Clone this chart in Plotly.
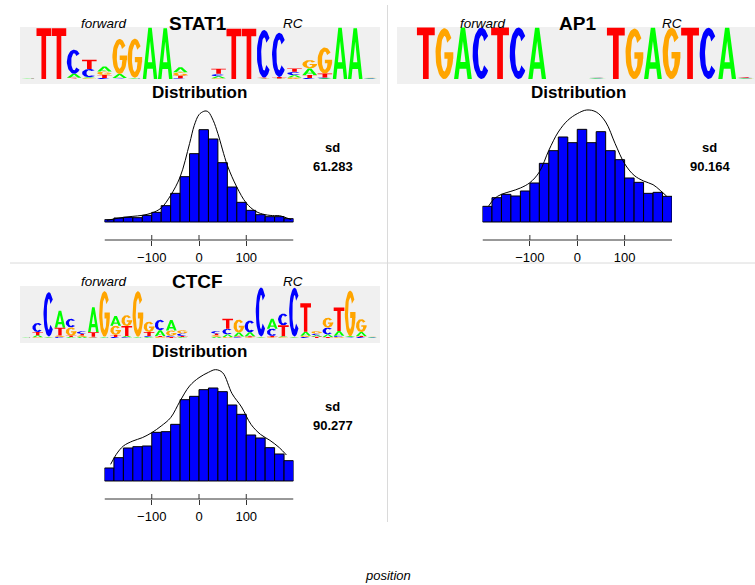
import math
import plotly.graph_objects as go

FIG_W, FIG_H = 755, 585

# ---------------- data ----------------
BIN_CENTERS = [-190, -170, -150, -130, -110, -90, -70, -50, -30, -10,
               10, 30, 50, 70, 90, 110, 130, 150, 170, 190]
TICK_VALS = [-100, 0, 100]
TICK_TEXT = ["\u2212100", "0", "100"]

STAT1_HIST = [7, 12, 14, 13, 20, 29, 49, 86, 136, 205, 277, 249, 178, 105, 59, 35, 22, 16, 16, 10]
AP1_HIST = [47, 73, 83, 78, 93, 117, 176, 214, 255, 238, 278, 238, 271, 214, 187, 132, 119, 86, 89, 77]
CTCF_HIST = [39, 70, 99, 103, 105, 146, 148, 170, 244, 254, 274, 279, 268, 228, 200, 138, 129, 100, 81, 61]

STAT1_DENS_X = [-195, -180, -160, -140, -120, -100, -80, -60, -40, -20, -10, 0, 10, 15, 20, 30, 40, 60, 80, 100, 120, 140, 160, 170, 180, 195]
STAT1_DENS_Y = [5, 9, 14, 17, 20, 27, 42, 80, 135, 235, 290, 322, 332, 333, 330, 305, 265, 170, 105, 57, 32, 22, 19, 19, 15, 7]

AP1_DENS_X = [-187, -175, -160, -140, -120, -100, -80, -60, -40, -20, 0, 20, 40, 60, 80, 100, 120, 140, 160, 175, 189]
AP1_DENS_Y = [48, 70, 83, 92, 102, 118, 150, 215, 270, 305, 325, 336, 330, 300, 235, 175, 140, 123, 112, 95, 77]

CTCF_DENS_X = [-187, -175, -160, -140, -120, -100, -80, -60, -40, -20, 0, 20, 35, 50, 70, 90, 110, 130, 150, 170, 185]
CTCF_DENS_Y = [50, 80, 105, 120, 130, 145, 165, 190, 240, 285, 310, 326, 334, 325, 262, 222, 170, 140, 122, 100, 78]

SD_TEXT = {"STAT1": "61.283", "AP1": "90.164", "CTCF": "90.277"}

# logo letter heights (bits) per column
STAT1_FWD_A = [0.01, 0.00, 0.00, 0.15, 0.04, 0.19, 0.15, 0.02, 1.97, 1.95, 0.19]
STAT1_FWD_C = [0.01, 0.00, 0.00, 0.93, 0.32, 0.04, 0.02, 0.01, 0.00, 0.00, 0.03]
STAT1_FWD_G = [0.01, 0.00, 0.00, 0.02, 0.03, 0.13, 1.35, 1.50, 0.00, 0.00, 0.13]
STAT1_FWD_T = [0.01, 1.95, 1.95, 0.03, 0.35, 0.12, 0.02, 0.02, 0.00, 0.00, 0.10]
STAT1_RC_A = [0.08, 0.00, 0.00, 0.01, 0.01, 0.09, 0.25, 0.03, 1.97, 1.95, 0.02]
STAT1_RC_C = [0.09, 0.00, 0.00, 1.83, 1.70, 0.13, 0.04, 0.03, 0.00, 0.00, 0.02]
STAT1_RC_G = [0.03, 0.00, 0.00, 0.01, 0.01, 0.06, 0.32, 1.00, 0.00, 0.00, 0.02]
STAT1_RC_T = [0.20, 1.93, 1.93, 0.03, 0.06, 0.13, 0.12, 0.15, 0.00, 0.00, 0.02]

AP1_FWD_A = [0.00, 0.00, 0.00, 1.98, 0.00, 0.00, 0.00, 1.97, 0.00]
AP1_FWD_C = [0.00, 0.00, 0.00, 0.00, 1.98, 0.00, 1.98, 0.00, 0.00]
AP1_FWD_G = [0.00, 0.00, 1.95, 0.00, 0.00, 0.00, 0.00, 0.00, 0.00]
AP1_FWD_T = [0.00, 1.98, 0.00, 0.00, 0.00, 1.98, 0.00, 0.00, 0.00]
AP1_RC_A = [0.02, 0.00, 0.00, 1.97, 0.00, 0.00, 0.00, 1.97, 0.02]
AP1_RC_C = [0.02, 0.00, 0.00, 0.00, 0.00, 0.00, 1.97, 0.00, 0.02]
AP1_RC_G = [0.02, 0.00, 1.94, 0.00, 1.97, 0.00, 0.00, 0.00, 0.01]
AP1_RC_T = [0.01, 1.97, 0.00, 0.00, 0.00, 1.97, 0.00, 0.00, 0.03]

CTCF_FWD_A = [0.01, 0.08, 0.02, 0.65, 0.04, 0.05, 0.96, 0.02, 0.38, 0.05, 0.02, 0.04, 0.22, 0.40, 0.04]
CTCF_FWD_C = [0.01, 0.35, 1.70, 0.05, 0.33, 0.10, 0.02, 0.01, 0.04, 0.03, 0.01, 0.04, 0.40, 0.05, 0.10]
CTCF_FWD_G = [0.01, 0.03, 0.02, 0.05, 0.32, 0.05, 0.03, 1.75, 0.35, 0.42, 1.75, 0.40, 0.04, 0.20, 0.12]
CTCF_FWD_T = [0.01, 0.12, 0.02, 0.30, 0.05, 0.06, 0.17, 0.02, 0.08, 0.38, 0.02, 0.15, 0.04, 0.04, 0.04]
CTCF_RC_A = [0.05, 0.10, 0.15, 0.15, 0.02, 0.38, 0.04, 0.02, 0.15, 0.06, 0.10, 0.18, 0.03, 0.15, 0.02]
CTCF_RC_C = [0.10, 0.22, 0.03, 0.45, 1.88, 0.28, 0.45, 1.87, 0.04, 0.06, 0.26, 0.05, 0.02, 0.04, 0.02]
CTCF_RC_G = [0.06, 0.04, 0.50, 0.03, 0.02, 0.03, 0.03, 0.02, 0.05, 0.10, 0.38, 0.04, 1.75, 0.50, 0.02]
CTCF_RC_T = [0.06, 0.38, 0.03, 0.04, 0.02, 0.05, 0.42, 0.02, 1.10, 0.05, 0.04, 0.90, 0.02, 0.04, 0.02]

LETTERS = ["A", "C", "G", "T"]
LETTER_COLORS = {"A": "#00FF00", "C": "#0000FF", "G": "#FFA500", "T": "#FF0000"}

FONT = "Liberation Sans, Arial, Helvetica, sans-serif"


# ---------------- helpers ----------------
def px_x(p):
    return p / FIG_W


def px_y(p):
    return 1 - p / FIG_H


def ccw(poly):
    a = 0.0
    for i in range(len(poly)):
        x1, y1 = poly[i]
        x2, y2 = poly[(i + 1) % len(poly)]
        a += x1 * y2 - x2 * y1
    return poly if a >= 0 else poly[::-1]


def arc(a0, a1, n=40, rxo=0.5, ryo=0.5, rxi=0.2, ryi=0.35):
    outer, inner = [], []
    for k in range(n + 1):
        t = math.radians(a0 + (a1 - a0) * k / n)
        outer.append((0.5 + rxo * math.cos(t), 0.5 + ryo * math.sin(t)))
        inner.append((0.5 + rxi * math.cos(t), 0.5 + ryi * math.sin(t)))
    return outer + inner[::-1]


def glyph(letter):
    if letter == "T":
        return [ccw([(0, 1), (0, 0.85), (0.34, 0.85), (0.34, 0), (0.66, 0),
                     (0.66, 0.85), (1, 0.85), (1, 1)])]
    if letter == "A":
        def xl(y):
            return 0.24 + 0.26 * y / 0.74

        def xr(y):
            return 0.76 - 0.26 * y / 0.74
        legs = [(0, 0), (0.24, 0), (0.5, 0.74), (0.76, 0), (1, 0), (0.62, 1), (0.38, 1)]
        bar = [(xl(0.2) - 0.03, 0.2), (xr(0.2) + 0.03, 0.2),
               (xr(0.33) + 0.03, 0.33), (xl(0.33) - 0.03, 0.33)]
        return [ccw(legs), ccw(bar)]
    if letter == "C":
        return [ccw(arc(42, 318))]
    if letter == "G":
        return [ccw(arc(38, 360)), ccw([(0.5, 0.40), (1.0, 0.40), (1.0, 0.53), (0.5, 0.53)])]
    return []


def logo_traces(fwd, rc, xa, ya):
    xs = {L: [] for L in LETTERS}
    ys = {L: [] for L in LETTERS}
    for mat, start in ((fwd, 1.0), (rc, 191.0)):
        n = len(mat[0])
        w = 167.0 / n
        pad = 0.02 * w
        for i in range(n):
            hts = {L: mat[j][i] for j, L in enumerate(LETTERS)}
            y0 = 0.0
            for L in sorted(LETTERS, key=lambda q: hts[q]):
                h = hts[L]
                if h <= 0:
                    continue
                x0 = start + i * w + pad
                x1 = start + (i + 1) * w - pad
                for poly in glyph(L):
                    for (u, v) in poly:
                        xs[L].append(x0 + u * (x1 - x0))
                        ys[L].append(y0 + v * h)
                    xs[L].append(None)
                    ys[L].append(None)
                y0 += h
    out = []
    for L in LETTERS:
        out.append(go.Scatter(x=xs[L], y=ys[L], mode="lines", fill="toself",
                              fillcolor=LETTER_COLORS[L],
                              line=dict(width=0, color=LETTER_COLORS[L]),
                              xaxis=xa, yaxis=ya, hoverinfo="skip", showlegend=False))
    return out


# ---------------- panels ----------------
PANELS = [
    dict(name="STAT1", hist=STAT1_HIST, dx=STAT1_DENS_X, dy=STAT1_DENS_Y,
         fwd=(STAT1_FWD_A, STAT1_FWD_C, STAT1_FWD_G, STAT1_FWD_T),
         rc=(STAT1_RC_A, STAT1_RC_C, STAT1_RC_G, STAT1_RC_T),
         box=(20, 380), rng=360, hx=(104.5, 293.5), cx=198, sdx=332, oy=0),
    dict(name="AP1", hist=AP1_HIST, dx=AP1_DENS_X, dy=AP1_DENS_Y,
         fwd=(AP1_FWD_A, AP1_FWD_C, AP1_FWD_G, AP1_FWD_T),
         rc=(AP1_RC_A, AP1_RC_C, AP1_RC_G, AP1_RC_T),
         box=(397, 755), rng=358, hx=(482.5, 672), cx=577, sdx=709, oy=0),
    dict(name="CTCF", hist=CTCF_HIST, dx=CTCF_DENS_X, dy=CTCF_DENS_Y,
         fwd=(CTCF_FWD_A, CTCF_FWD_C, CTCF_FWD_G, CTCF_FWD_T),
         rc=(CTCF_RC_A, CTCF_RC_C, CTCF_RC_G, CTCF_RC_T),
         box=(20, 380), rng=360, hx=(104.5, 293.5), cx=198, sdx=332, oy=259),
]

fig = go.Figure()
layout = dict(width=FIG_W, height=FIG_H, margin=dict(l=0, r=0, t=0, b=0),
              paper_bgcolor="white", plot_bgcolor="rgba(0,0,0,0)", showlegend=False,
              font=dict(family=FONT, color="black"))
shapes = []
annotations = []

# dividers
shapes.append(dict(type="line", xref="paper", yref="paper",
                   x0=px_x(387.5), x1=px_x(387.5), y0=px_y(5), y1=px_y(522),
                   line=dict(color="#DADADA", width=1)))
shapes.append(dict(type="line", xref="paper", yref="paper",
                   x0=px_x(10), x1=1, y0=px_y(263), y1=px_y(263),
                   line=dict(color="#DADADA", width=1)))

Y_LO, Y_HI = -54, 340
for k, p in enumerate(PANELS):
    la = 2 * k + 1
    ha = 2 * k + 2
    lx = "x" if la == 1 else "x%d" % la
    ly = "y" if la == 1 else "y%d" % la
    hxn = "x%d" % ha
    hyn = "y%d" % ha
    oy = p["oy"]
    b0, b1 = p["box"]

    # gray logo box
    shapes.append(dict(type="rect", xref="paper", yref="paper", layer="below",
                       x0=px_x(b0), x1=px_x(b1), y0=px_y(84 + oy), y1=px_y(27 + oy),
                       fillcolor="#F0F0F0", line=dict(width=0)))
    for tr in logo_traces(p["fwd"], p["rc"], lx, ly):
        fig.add_trace(tr)
    layout["xaxis" if la == 1 else "xaxis%d" % la] = dict(
        domain=[px_x(b0), px_x(b1)], range=[0, p["rng"]], visible=False,
        anchor=ly, fixedrange=True)
    layout["yaxis" if la == 1 else "yaxis%d" % la] = dict(
        domain=[px_y(84 + oy), px_y(27 + oy)], range=[-0.19, 2.0], visible=False,
        anchor=lx, fixedrange=True)

    # histogram
    fig.add_trace(go.Bar(x=BIN_CENTERS, y=p["hist"], width=20,
                         marker=dict(color="#0000FF", line=dict(color="black", width=1)),
                         xaxis=hxn, yaxis=hyn, hoverinfo="skip", showlegend=False))
    fig.add_trace(go.Scatter(x=p["dx"], y=p["dy"], mode="lines",
                             line=dict(color="black", width=1, shape="spline", smoothing=1),
                             xaxis=hxn, yaxis=hyn, hoverinfo="skip", showlegend=False))
    axis_px = 240 + oy
    top_px = 222 + oy - Y_HI / 3.0
    layout["xaxis%d" % ha] = dict(
        domain=[px_x(p["hx"][0]), px_x(p["hx"][1])], range=[-200, 200],
        anchor=hyn, showline=False, showgrid=False, zeroline=False,
        ticks="outside", ticklen=5, tickwidth=1, tickcolor="#333333",
        tickvals=TICK_VALS, ticktext=TICK_TEXT,
        tickfont=dict(family=FONT, size=13, color="black"), fixedrange=True)
    layout["yaxis%d" % ha] = dict(
        domain=[px_y(axis_px), px_y(top_px)], range=[Y_LO, Y_HI], visible=False,
        anchor=hxn, fixedrange=True)
    # axis line + upper halves of ticks
    shapes.append(dict(type="line", xref=hxn, yref="paper", x0=-200, x1=200,
                       y0=px_y(axis_px), y1=px_y(axis_px),
                       line=dict(color="#333333", width=1)))
    for v in TICK_VALS:
        shapes.append(dict(type="line", xref=hxn, yref="paper", x0=v, x1=v,
                           y0=px_y(axis_px - 5), y1=px_y(axis_px),
                           line=dict(color="#333333", width=1)))

    # texts
    cx = p["cx"]
    dy_t = 1.5 if oy else 0
    annotations += [
        dict(text="<b>%s</b>" % p["name"], x=px_x(cx), y=px_y(24 + oy - dy_t),
             xref="paper", yref="paper", showarrow=False, xanchor="center", yanchor="middle",
             font=dict(family=FONT, size=19, color="black")),
        dict(text="<i>forward</i>", x=px_x(cx - 94), y=px_y(23.5 + oy - dy_t),
             xref="paper", yref="paper", showarrow=False, xanchor="center", yanchor="middle",
             font=dict(family=FONT, size=13.5, color="black")),
        dict(text="<i>RC</i>", x=px_x(cx + 95), y=px_y(23.5 + oy - dy_t),
             xref="paper", yref="paper", showarrow=False, xanchor="center", yanchor="middle",
             font=dict(family=FONT, size=13.5, color="black")),
        dict(text="<b>Distribution</b>", x=px_x(cx + 1), y=px_y(92 + oy),
             xref="paper", yref="paper", showarrow=False, xanchor="center", yanchor="middle",
             font=dict(family=FONT, size=17, color="black")),
        dict(text="<b>sd</b>", x=px_x(p["sdx"]), y=px_y(147 + oy),
             xref="paper", yref="paper", showarrow=False, xanchor="center", yanchor="middle",
             font=dict(family=FONT, size=13, color="black")),
        dict(text="<b>%s</b>" % SD_TEXT[p["name"]], x=px_x(p["sdx"] + 1), y=px_y(166 + oy),
             xref="paper", yref="paper", showarrow=False, xanchor="center", yanchor="middle",
             font=dict(family=FONT, size=13, color="black")),
    ]

annotations.append(dict(text="<i>position</i>", x=px_x(388), y=px_y(575),
                        xref="paper", yref="paper", showarrow=False,
                        xanchor="center", yanchor="middle",
                        font=dict(family=FONT, size=13, color="black")))

layout["shapes"] = shapes
layout["annotations"] = annotations
fig.update_layout(**layout)
fig.write_html("out.html")
